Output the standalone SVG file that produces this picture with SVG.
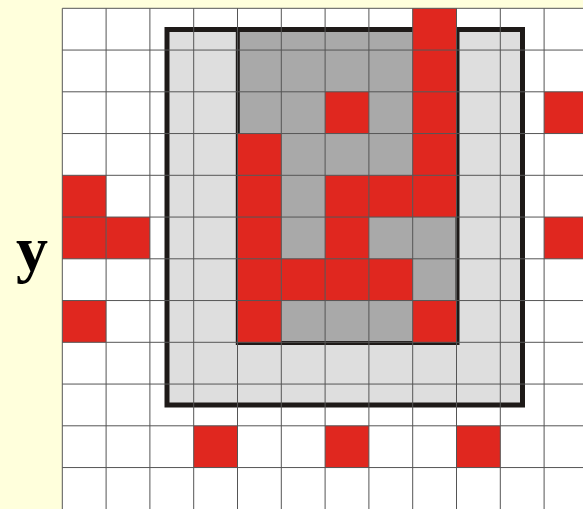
<svg xmlns="http://www.w3.org/2000/svg" width="583" height="509" viewBox="0 0 583 509">
  <defs>
    <style>
      .bg { fill: #ffffdc; }
      .paper { fill: #ffffff; }
      .light { fill: #dedede; }
      .dark { fill: #a9a9a9; }
      .frame { fill: none; stroke: #1e1a18; stroke-linejoin: miter; }
      .cell { fill: #e0271f; }
      .grid { stroke: #555555; stroke-width: 1; fill: none; }
      .label { font-family: "Liberation Serif", "Times New Roman", serif; font-weight: bold; font-size: 64px; fill: #000000; }
    </style>
  </defs>

  <rect class="bg" x="0" y="0" width="583" height="509"/>
  <rect class="paper" x="62.3" y="8.3" width="520.7" height="500.7"/>

  <g id="outer-region">
    <rect class="light" x="167" y="29.5" width="355.5" height="375.5"/>
  </g>
  <g id="inner-region">
    <rect class="dark" x="238" y="29.5" width="219.5" height="313.5"/>
  </g>

  <g id="frames">
    <rect class="frame" x="167" y="29.5" width="355.5" height="375.5" stroke-width="5"/>
    <rect class="frame" x="237.8" y="29.5" width="219.7" height="313.5" stroke-width="4"/>
  </g>

  <g id="cells">
    <rect class="cell" x="412.7" y="8.3" width="43.8" height="41.75"/>
    <rect class="cell" x="412.7" y="50.05" width="43.8" height="41.75"/>
    <rect class="cell" x="325.1" y="91.8" width="43.8" height="41.75"/>
    <rect class="cell" x="412.7" y="91.8" width="43.8" height="41.75"/>
    <rect class="cell" x="544.1" y="91.8" width="43.8" height="41.75"/>
    <rect class="cell" x="237.5" y="133.55" width="43.8" height="41.75"/>
    <rect class="cell" x="412.7" y="133.55" width="43.8" height="41.75"/>
    <rect class="cell" x="62.3" y="175.3" width="43.8" height="41.75"/>
    <rect class="cell" x="237.5" y="175.3" width="43.8" height="41.75"/>
    <rect class="cell" x="325.1" y="175.3" width="43.8" height="41.75"/>
    <rect class="cell" x="368.9" y="175.3" width="43.8" height="41.75"/>
    <rect class="cell" x="412.7" y="175.3" width="43.8" height="41.75"/>
    <rect class="cell" x="62.3" y="217.05" width="43.8" height="41.75"/>
    <rect class="cell" x="106.1" y="217.05" width="43.8" height="41.75"/>
    <rect class="cell" x="237.5" y="217.05" width="43.8" height="41.75"/>
    <rect class="cell" x="325.1" y="217.05" width="43.8" height="41.75"/>
    <rect class="cell" x="544.1" y="217.05" width="43.8" height="41.75"/>
    <rect class="cell" x="237.5" y="258.8" width="43.8" height="41.75"/>
    <rect class="cell" x="281.3" y="258.8" width="43.8" height="41.75"/>
    <rect class="cell" x="325.1" y="258.8" width="43.8" height="41.75"/>
    <rect class="cell" x="368.9" y="258.8" width="43.8" height="41.75"/>
    <rect class="cell" x="62.3" y="300.55" width="43.8" height="41.75"/>
    <rect class="cell" x="237.5" y="300.55" width="43.8" height="41.75"/>
    <rect class="cell" x="412.7" y="300.55" width="43.8" height="41.75"/>
    <rect class="cell" x="193.7" y="425.8" width="43.8" height="41.75"/>
    <rect class="cell" x="325.1" y="425.8" width="43.8" height="41.75"/>
    <rect class="cell" x="456.5" y="425.8" width="43.8" height="41.75"/>
  </g>

  <g id="grid" class="grid">
    <line x1="62.3" y1="8.3" x2="62.3" y2="509"/>
    <line x1="106.1" y1="8.3" x2="106.1" y2="509"/>
    <line x1="149.9" y1="8.3" x2="149.9" y2="509"/>
    <line x1="193.7" y1="8.3" x2="193.7" y2="509"/>
    <line x1="237.5" y1="8.3" x2="237.5" y2="509"/>
    <line x1="281.3" y1="8.3" x2="281.3" y2="509"/>
    <line x1="325.1" y1="8.3" x2="325.1" y2="509"/>
    <line x1="368.9" y1="8.3" x2="368.9" y2="509"/>
    <line x1="412.7" y1="8.3" x2="412.7" y2="509"/>
    <line x1="456.5" y1="8.3" x2="456.5" y2="509"/>
    <line x1="500.3" y1="8.3" x2="500.3" y2="509"/>
    <line x1="544.1" y1="8.3" x2="544.1" y2="509"/>
    <line x1="62.3" y1="8.3" x2="583" y2="8.3"/>
    <line x1="62.3" y1="50.05" x2="583" y2="50.05"/>
    <line x1="62.3" y1="91.8" x2="583" y2="91.8"/>
    <line x1="62.3" y1="133.55" x2="583" y2="133.55"/>
    <line x1="62.3" y1="175.3" x2="583" y2="175.3"/>
    <line x1="62.3" y1="217.05" x2="583" y2="217.05"/>
    <line x1="62.3" y1="258.8" x2="583" y2="258.8"/>
    <line x1="62.3" y1="300.55" x2="583" y2="300.55"/>
    <line x1="62.3" y1="342.3" x2="583" y2="342.3"/>
    <line x1="62.3" y1="384.05" x2="583" y2="384.05"/>
    <line x1="62.3" y1="425.8" x2="583" y2="425.8"/>
    <line x1="62.3" y1="467.55" x2="583" y2="467.55"/>
  </g>

  <text class="label" x="16" y="270">y</text>
</svg>
